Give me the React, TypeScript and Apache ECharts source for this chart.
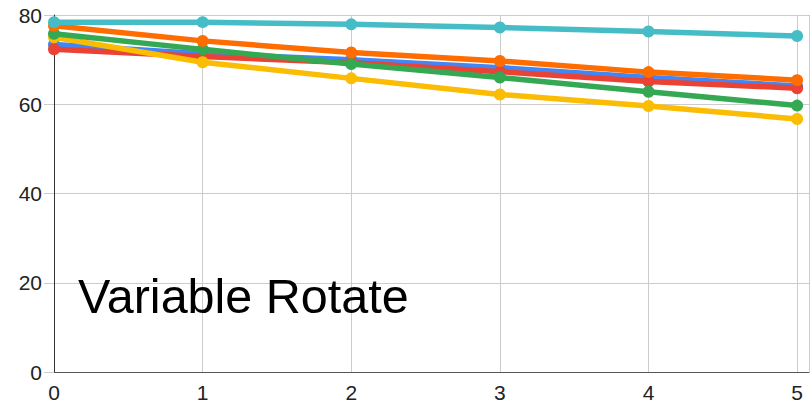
import React, { useEffect, useRef } from "react";
import * as echarts from "echarts";

const xValues = [0, 1, 2, 3, 4, 5];
const seriesNames = ["Blue", "Red", "Yellow", "Green", "Orange", "Teal"];
const seriesColors = ["#4285F4", "#EA4335", "#FBBC04", "#34A853", "#FF6D01", "#46BDC6"];
const blueValues = [73.4, 71.3, 70.0, 68.2, 66.0, 64.1];
const redValues = [72.3, 70.7, 69.3, 67.3, 65.1, 63.6];
const yellowValues = [75.0, 69.4, 65.8, 62.2, 59.6, 56.7];
const greenValues = [75.8, 72.3, 69.0, 66.0, 62.8, 59.7];
const orangeValues = [77.6, 74.2, 71.6, 69.7, 67.2, 65.4];
const tealValues = [78.4, 78.4, 77.9, 77.2, 76.3, 75.3];
const allValues = [blueValues, redValues, yellowValues, greenValues, orangeValues, tealValues];
const titleText = "Variable Rotate";

export default function App() {
  const ref = useRef<HTMLDivElement>(null);
  useEffect(() => {
    if (!ref.current) return;
    const chart = echarts.init(ref.current, undefined, { renderer: "svg" });
    const font = "Arial, 'Liberation Sans', sans-serif";
    chart.setOption({
      animation: false,
      backgroundColor: "#ffffff",
      grid: { left: 54, right: 0, top: 15, bottom: 44, containLabel: false },
      xAxis: {
        type: "value",
        min: 0,
        max: 5.08,
        interval: 1,
        axisLine: { show: true, lineStyle: { color: "#555", width: 1 } },
        axisTick: { show: false },
        splitLine: { show: true, lineStyle: { color: "#cccccc", width: 1 } },
        axisLabel: {
          fontSize: 21,
          fontFamily: font,
          color: "#222",
          margin: 10,
          formatter: (v: number) => (Number.isInteger(v) ? String(v) : ""),
        },
      },
      yAxis: {
        type: "value",
        min: 0,
        max: 80,
        interval: 20,
        axisLine: { show: true, lineStyle: { color: "#333", width: 1 } },
        axisTick: { show: true, length: 10, lineStyle: { color: "#cccccc" } },
        splitLine: { show: true, lineStyle: { color: "#cccccc", width: 1 } },
        axisLabel: { fontSize: 21, fontFamily: font, color: "#222", margin: 12 },
      },
      graphic: [
        {
          type: "text",
          x: 78,
          y: 296,
          style: {
            text: titleText,
            font: `48.5px ${font}`,
            fill: "#000",
            verticalAlign: "middle",
            align: "left",
          },
          z: 100,
        },
      ],
      series: allValues.map((vals, i) => ({
        name: seriesNames[i],
        type: "line",
        data: vals.map((v, j) => [xValues[j], v]),
        color: seriesColors[i],
        lineStyle: { width: 5.5, color: seriesColors[i] },
        symbol: "circle",
        symbolSize: 12,
        itemStyle: { color: seriesColors[i] },
        z: 2 + i,
      })),
    });
    return () => chart.dispose();
  }, []);
  return (
    <div
      ref={ref}
      style={{ position: "fixed", left: 0, top: 0, width: 812, height: 416 }}
    />
  );
}
